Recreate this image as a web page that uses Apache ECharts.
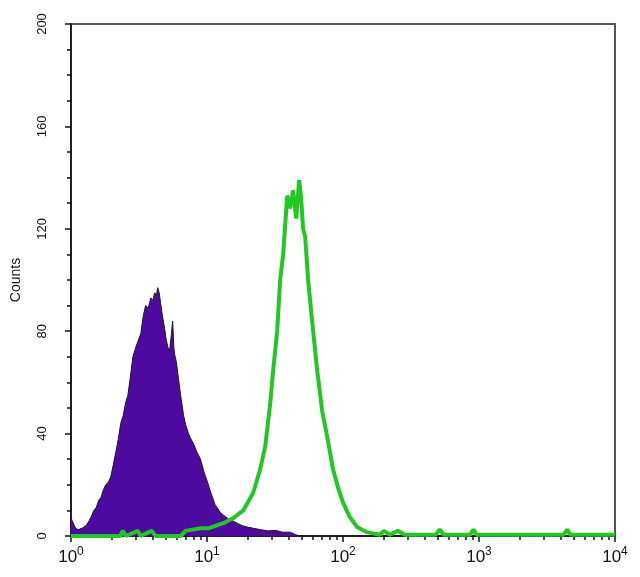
<!DOCTYPE html>
<html>
<head>
<meta charset="utf-8">
<script src="https://cdn.jsdelivr.net/npm/echarts@6/dist/echarts.min.js"></script>
<style>
html,body{margin:0;padding:0;background:#fff;}
#c{width:640px;height:577px;}
</style>
</head>
<body>
<div id="c"></div>
<script>
// Isotype control (purple filled histogram): [fluorescence, counts]
const controlHist = [
  [1.0, 7], [1.04, 5], [1.08, 3], [1.13, 2.5], [1.2, 3], [1.29, 4], [1.36, 6], [1.42, 8],
  [1.47, 10], [1.53, 11], [1.6, 14], [1.66, 15], [1.73, 18], [1.8, 20], [1.88, 21], [1.96, 23],
  [2.05, 28], [2.14, 33], [2.23, 38], [2.32, 44], [2.42, 47], [2.52, 52], [2.62, 55], [2.73, 62],
  [2.85, 70], [2.97, 73], [3.1, 76], [3.26, 79], [3.4, 86], [3.54, 90], [3.7, 89], [3.86, 93],
  [4.0, 92], [4.12, 95], [4.25, 94], [4.34, 97], [4.45, 95], [4.56, 91], [4.7, 86], [4.88, 81],
  [5.0, 77], [5.14, 74], [5.3, 72], [5.45, 78], [5.59, 84], [5.7, 74], [5.78, 71], [5.95, 68],
  [6.08, 64], [6.4, 55], [6.73, 47], [7.0, 43], [7.31, 40], [7.6, 38], [7.96, 36], [8.4, 33],
  [8.96, 30], [9.5, 25], [10.1, 21], [10.5, 18], [11.0, 15], [11.5, 12], [11.9, 11], [12.6, 9],
  [13.3, 8], [14.1, 7], [15.3, 6], [16.7, 5], [18.2, 4], [19.8, 3.5], [22, 3], [24.6, 2.5],
  [28, 2], [31.7, 2.2], [36, 1.5], [40.9, 1.5], [45, 0.5], [48, 0], [10000, 0]
];

// Antibody stained sample (green outline histogram): [fluorescence, counts]
const stainedHist = [
  [1.0, 0], [2.3, 0], [2.4, 2], [2.53, 0], [3.1, 2], [3.26, 0], [3.92, 2], [4.19, 0],
  [6.4, 0], [6.96, 2], [7.83, 2.5], [8.96, 3], [10.26, 3], [11.5, 4], [13.2, 5], [15.6, 7],
  [18.5, 10], [21.9, 17], [24.6, 26], [26.8, 35], [29.2, 52], [30.7, 65], [32.8, 80],
  [34.5, 100], [36.3, 110], [38.9, 133], [40.9, 128], [43.0, 135], [45.3, 124], [47.6, 139],
  [49.2, 132], [50.9, 120], [52.7, 117], [55.4, 100], [59.3, 84], [64.5, 65], [70.2, 49],
  [76.4, 39], [84.5, 26], [91.9, 19], [100, 13], [112, 7.5], [127, 3.5], [150, 1.5],
  [187, 0.5], [200, 2], [221, 0.5], [253, 2], [285, 0.5], [480, 0.5], [514, 2.5], [550, 0.5],
  [860, 0.5], [912, 2.5], [960, 0.5], [4200, 0.5], [4450, 2.5], [4700, 0.5], [10000, 0.5]
];

const xMajorTicks = [1, 10, 100, 1000, 10000];
const xMinorTicks = [2,3,4,5,6,7,8,9,20,30,40,50,60,70,80,90,200,300,400,500,600,700,800,900,2000,3000,4000,5000,6000,7000,8000,9000];
const yTicks = [0, 40, 80, 120, 160, 200];

const font = 'Liberation Sans, Arial, sans-serif';
const gridPos = {left: 71, right: 25, top: 24, bottom: 41};

const chart = echarts.init(document.getElementById('c'));
chart.setOption({
  animation: false,
  backgroundColor: '#fff',
  grid: [
    Object.assign({show: true, borderColor: '#555', borderWidth: 2, backgroundColor: 'transparent'}, gridPos),
    Object.assign({show: false}, gridPos)
  ],
  xAxis: [
    {
      type: 'log', logBase: 10, min: xMajorTicks[0], max: xMajorTicks[xMajorTicks.length - 1],
      gridIndex: 0,
      axisLine: {show: true, lineStyle: {color: '#111', width: 1.5}},
      axisTick: {show: true, length: 6, inside: false, lineStyle: {color: '#111', width: 1.5}},
      splitLine: {show: false},
      axisLabel: {
        show: true, margin: 10, color: '#111', fontFamily: font, fontSize: 17,
        customValues: xMajorTicks,
        formatter: function (v) { return '10{s|' + Math.round(Math.log10(v)) + '}'; },
        rich: {s: {fontSize: 12, fontFamily: font, color: '#111', verticalAlign: 'bottom', padding: [0, 0, 10, 0]}}
      }
    },
    {
      type: 'log', logBase: 10, min: xMajorTicks[0], max: xMajorTicks[xMajorTicks.length - 1],
      gridIndex: 1,
      axisLine: {show: false},
      axisTick: {show: true, length: 4, inside: false, customValues: xMinorTicks, lineStyle: {color: '#111', width: 1.5}},
      splitLine: {show: false},
      axisLabel: {show: false}
    }
  ],
  yAxis: [
    {
      type: 'value', min: yTicks[0], max: yTicks[yTicks.length - 1], interval: 40,
      gridIndex: 0,
      name: 'Counts', nameLocation: 'middle', nameGap: 48, nameRotate: 90,
      nameTextStyle: {color: '#111', fontFamily: font, fontSize: 14},
      axisLine: {show: true, lineStyle: {color: '#111', width: 1.5}},
      axisTick: {show: true, length: 6, lineStyle: {color: '#111', width: 1.5}},
      minorTick: {show: true, splitNumber: 4, length: 4, lineStyle: {color: '#111', width: 1.5}},
      splitLine: {show: false},
      axisLabel: {show: true, rotate: 90, margin: 22, color: '#111', fontFamily: font, fontSize: 13}
    },
    {
      type: 'value', min: 0, max: 200, gridIndex: 1, show: false
    }
  ],
  series: [
    {
      name: 'Control', type: 'line', xAxisIndex: 0, yAxisIndex: 0,
      data: controlHist, showSymbol: false, symbol: 'none',
      lineStyle: {color: '#1a1a1a', width: 1},
      areaStyle: {color: '#4e0aa0', opacity: 1},
      z: 2
    },
    {
      name: 'Stained', type: 'line', xAxisIndex: 0, yAxisIndex: 0,
      data: stainedHist, showSymbol: false, symbol: 'none',
      lineStyle: {color: '#22c822', width: 4},
      z: 3
    }
  ]
});
</script>
</body>
</html>
